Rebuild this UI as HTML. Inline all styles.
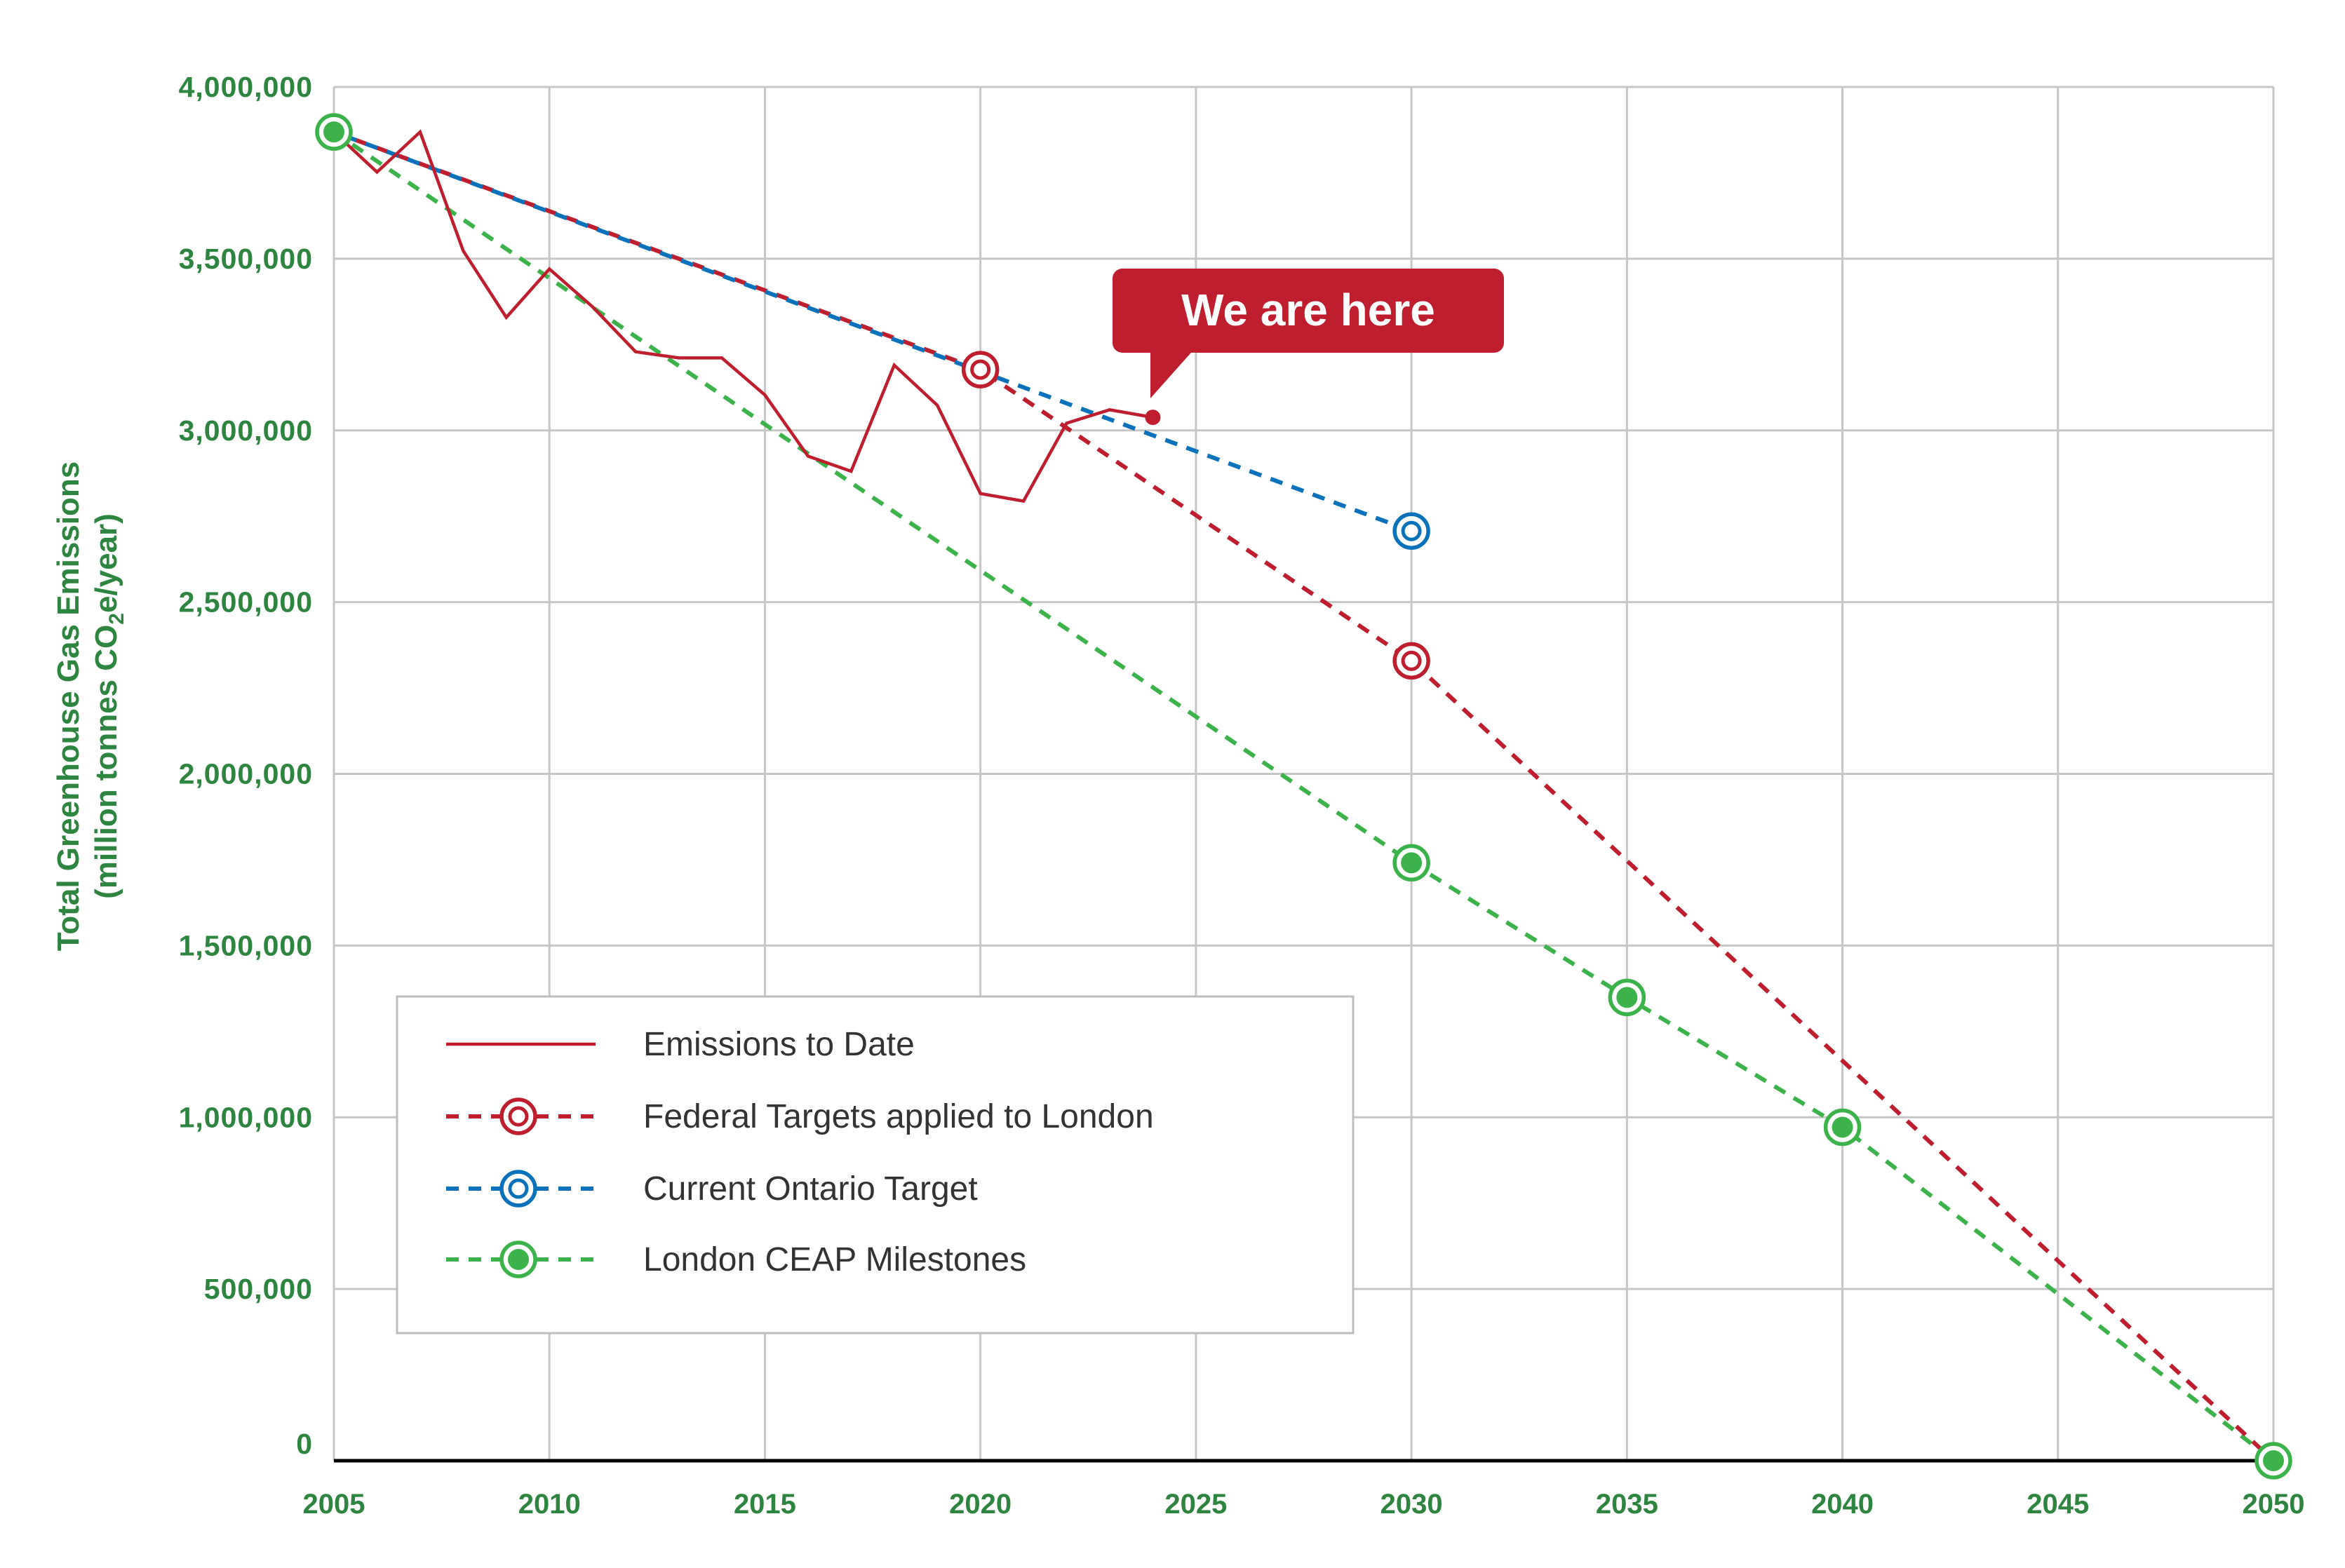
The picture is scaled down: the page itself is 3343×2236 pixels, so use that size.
<!DOCTYPE html>
<html><head><meta charset="utf-8"><style>
html,body{margin:0;padding:0;background:#fff;}
svg{display:block;font-family:"Liberation Sans",sans-serif;}
</style></head><body>
<svg id="chart" width="3343" height="2236" viewBox="0 0 3343 2236"></svg>
<script>
const emYears=[2005,2006,2007,2008,2009,2010,2011,2012,2013,2014,2015,2016,2017,2018,2019,2020,2021,2022,2023,2024];
const emValues=[3869000,3752000,3869000,3523000,3329000,3470000,3360000,3229000,3211000,3211000,3103000,2925000,2881000,3190000,3073000,2816000,2794000,3021000,3060000,3038000];
const fedYears=[2005,2020,2030,2050];
const fedValues=[3869000,3177000,2329000,0];
const ontYears=[2005,2030];
const ontValues=[3869000,2707000];
const ceapYears=[2005,2030,2035,2040,2050];
const ceapValues=[3869000,1741000,1349000,971000,0];
const xTicks=[2005,2010,2015,2020,2025,2030,2035,2040,2045,2050];
const yTicks=[0,500000,1000000,1500000,2000000,2500000,3000000,3500000,4000000];
const yTickLabels=["0","500,000","1,000,000","1,500,000","2,000,000","2,500,000","3,000,000","3,500,000","4,000,000"];

const NS="http://www.w3.org/2000/svg";
const svg=document.getElementById('chart');
const X0=476,X1=3241,Y0=2083,Y1=124;
const xs=v=>X0+(v-2005)/(2050-2005)*(X1-X0);
const ys=v=>Y0-v/4000000*(Y0-Y1);
const RED="#be1e2d",BLUE="#0a72ba",GREEN="#3cb34a",TG="#2e8540";
function mk(tag,attrs,parent){const e=document.createElementNS(NS,tag);for(const k in attrs)e.setAttribute(k,attrs[k]);(parent||svg).appendChild(e);return e;}

// grid
const grid=mk('g',{});


xTicks.forEach(t=>{const l=mk('line',{x1:xs(t),x2:xs(t),y1:Y1,y2:Y0,stroke:"#c6c6c6","stroke-width":3},grid);

});
yTicks.forEach(t=>{if(t===0)return;const l=mk('line',{x1:X0,x2:X1,y1:ys(t),y2:ys(t),stroke:"#c6c6c6","stroke-width":3},grid);

});
const ax=mk('line',{x1:X0,x2:X1,y1:Y0,y2:Y0,stroke:"#000","stroke-width":5});



// tick labels
xTicks.forEach(t=>{const e=mk('text',{x:xs(t),y:2158,"text-anchor":"middle","font-size":40,"font-weight":"bold",fill:TG});e.textContent=t;

});
yTicks.forEach((t,i)=>{const e=mk('text',{x:446,y:(t===0?ys(t)-10:ys(t)+14),"text-anchor":"end","font-size":41,"font-weight":"bold",fill:TG,"letter-spacing":"1"});e.textContent=yTickLabels[i];

});

// y title
const yt=mk('text',{transform:"translate(112,1007) rotate(-90)","text-anchor":"middle","font-size":44,fill:TG,"font-weight":"bold"});


yt.innerHTML='<tspan x="0" y="0">Total Greenhouse Gas Emissions</tspan><tspan x="0" y="54">(million tonnes CO<tspan font-size="30" dy="10">2</tspan><tspan dy="-10">e/year)</tspan></tspan>';

function pts(xa,va){return xa.map((x,i)=>xs(x)+","+ys(va[i])).join(" ");}
// series lines
const ceapL=mk('polyline',{points:pts(ceapYears,ceapValues),fill:"none",stroke:GREEN,"stroke-width":6,"stroke-dasharray":"18 14"});


const fedL=mk('polyline',{points:pts(fedYears,fedValues),fill:"none",stroke:RED,"stroke-width":6,"stroke-dasharray":"18 14"});


const ontL=mk('polyline',{points:pts(ontYears,ontValues),fill:"none",stroke:BLUE,"stroke-width":6,"stroke-dasharray":"18 14","stroke-dashoffset":"-16"});


const emL=mk('polyline',{points:pts(emYears,emValues),fill:"none",stroke:RED,"stroke-width":4.5,"stroke-linejoin":"miter"});


const last=emYears.length-1;
const dot=mk('circle',{cx:xs(emYears[last]),cy:ys(emValues[last]),r:11,fill:RED});



function ring(cx,cy,col){const g=mk('g',{});
mk('circle',{cx,cy,r:24,fill:"#fff",stroke:col,"stroke-width":5.5},g);
mk('circle',{cx,cy,r:12,fill:"none",stroke:col,"stroke-width":5},g);return g;}
function filled(cx,cy){const g=mk('g',{});
mk('circle',{cx,cy,r:24,fill:"#fff",stroke:GREEN,"stroke-width":5.5},g);
mk('circle',{cx,cy,r:15,fill:GREEN},g);return g;}
fedYears.forEach((y,i)=>{if(i===0||i===fedYears.length-1)return;const g=ring(xs(y),ys(fedValues[i]),RED);

});
ontYears.forEach((y,i)=>{if(i===0)return;const g=ring(xs(y),ys(ontValues[i]),BLUE);

});
ceapYears.forEach((y,i)=>{const g=filled(xs(y),ys(ceapValues[i]));

});

// callout
const co=mk('g',{});


mk('rect',{x:1586,y:383,width:558,height:120,rx:14,fill:RED},co);
mk('polygon',{points:"1640,495 1705,495 1640,568",fill:RED},co);
const ct=mk('text',{x:1865,y:464,"text-anchor":"middle","font-size":64,"font-weight":"bold",fill:"#fff"},co);ct.textContent="We are here";

// legend
const lg=mk('g',{});


mk('rect',{x:566,y:1421,width:1363,height:480,fill:"#fff",stroke:"#bdbdbd","stroke-width":3},lg);
const entries=[["Emissions to Date",RED,"solid"],["Federal Targets applied to London",RED,"ring"],["Current Ontario Target",BLUE,"ring"],["London CEAP Milestones",GREEN,"fill"]];
const ly=[1489,1592,1695,1796];
entries.forEach((en,i)=>{const g=mk('g',{},lg);


if(en[2]==="solid"){mk('line',{x1:636,x2:849,y1:ly[i],y2:ly[i],stroke:en[1],"stroke-width":4.5},g);}
else{mk('line',{x1:636,x2:849,y1:ly[i],y2:ly[i],stroke:en[1],"stroke-width":6,"stroke-dasharray":"18 14"},g);
const m=en[2]==="ring"?ring(739,ly[i],en[1]):filled(739,ly[i]);g.appendChild(m);}
const t=mk('text',{x:917,y:ly[i]+16,"font-size":48,fill:"#333"},g);t.textContent=en[0];});
</script>
</body></html>
